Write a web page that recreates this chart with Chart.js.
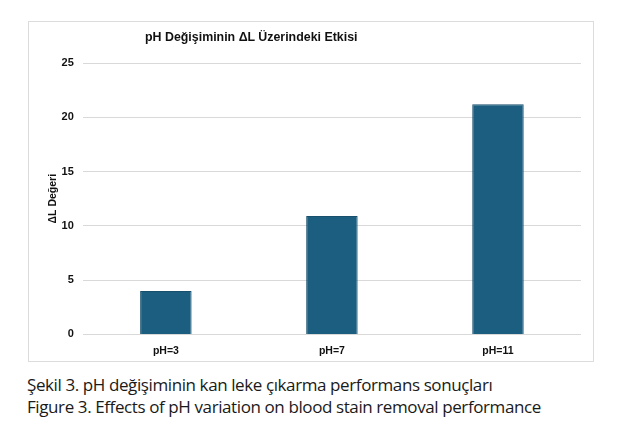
<!DOCTYPE html>
<html>
<head>
<meta charset="utf-8">
<script src="https://cdn.jsdelivr.net/npm/chart.js@4"></script>
<style>
  body { margin: 0; background: #fff; width: 626px; height: 444px; position: relative; overflow: hidden; }
  #box { position: absolute; left: 28px; top: 21px; width: 564px; height: 339px; border: 1px solid #dcdcdc; }
  #title { position: absolute; left: 116px; top: 8px; font: bold 12.4px "Liberation Sans", Arial, sans-serif; color: #111; }
  #caption { position: absolute; left: 27px; top: 374px; font: 17px "Open Sans", sans-serif; line-height: 22px; color: #1a1a1a; letter-spacing: -0.4px; }
</style>
</head>
<body>
<div id="box">
  <canvas id="phChart" width="564" height="339"></canvas>
  <div id="title">pH Değişiminin ΔL Üzerindeki Etkisi</div>
</div>
<div id="caption">Şekil 3. pH değişiminin kan leke çıkarma performans sonuçları<br>Figure 3. Effects of pH variation on blood stain removal performance</div>
<script>
// categories and values
let phLabels = ['pH=3', 'pH=7', 'pH=11'];
let deltaL = [4.0, 10.9, 21.2];
let yTicks = [0, 5, 10, 15, 20, 25];

let tickFont = { family: 'Liberation Sans', size: 11, weight: 'bold' };
let axisTitleFont = { family: 'Liberation Sans', size: 10.5, weight: 'bold' };

let ctx = document.getElementById('phChart').getContext('2d');
let phChart = new Chart(ctx, {
    type: 'bar',
    data: {
        labels: phLabels,
        datasets: [{
            label: 'ΔL Değeri',
            data: deltaL,
            backgroundColor: '#1c5e80',
            borderColor: '#174f6c',
            borderWidth: 1,
            categoryPercentage: 1,
            barPercentage: 0.31
        }]
    },
    options: {
        responsive: false,
        animation: false,
        layout: { padding: { top: 41, right: 12, bottom: 2, left: 18 } },
        plugins: { legend: { display: false }, tooltip: { enabled: false } },
        scales: {
            x: {
                grid: { display: false },
                border: { display: false },
                ticks: { color: '#111', font: { family: 'Liberation Sans', size: 10.5, weight: 'bold' }, padding: 2 }
            },
            y: {
                min: 0,
                max: 25,
                afterBuildTicks: (axis) => { axis.ticks = yTicks.map(v => ({ value: v })); },
                grid: { color: '#d9d9d9', drawTicks: false },
                border: { display: false },
                ticks: { color: '#111', font: tickFont, padding: 9 },
                title: {
                    display: true,
                    text: 'ΔL Değeri',
                    color: '#111',
                    font: axisTitleFont,
                    padding: { top: 0, bottom: -7 }
                }
            }
        }
    }
});
</script>
</body>
</html>
